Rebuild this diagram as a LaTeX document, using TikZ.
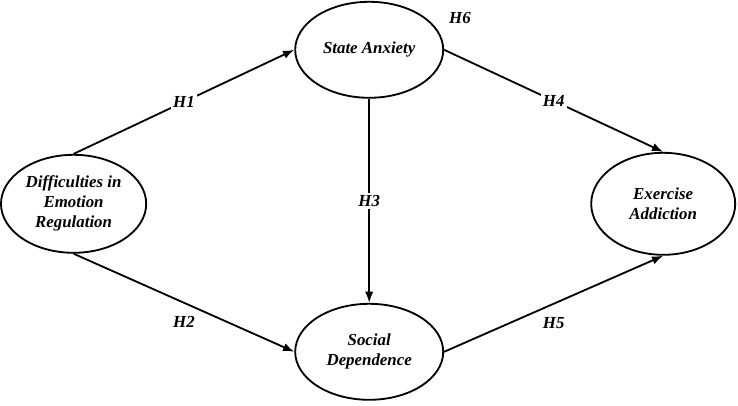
\documentclass[tikz,border=0pt]{standalone}
\usepackage{fontspec}
\setmainfont{Liberation Serif}
\usepackage{tikz}
\usetikzlibrary{arrows.meta,shapes.geometric}

\begin{document}
\begin{tikzpicture}[
  >={Latex[length=8pt,width=6pt]},
  line width=1.3pt,
  font=\fontsize{12}{14.2}\selectfont\bfseries\itshape,
  construct/.style={draw,ellipse,inner sep=0,minimum width=3.7cm,minimum height=2.4cm,align=center},
  hyp/.style={fill=white,inner sep=1.5pt}
  ]

  \useasboundingbox (0, 0) rectangle (18.45, 10.125);

  \node [construct,minimum width=3.63cm,minimum height=2.45cm] (der) at (1.84, 5.03) {Difficulties in\\Emotion\\Regulation};
  \node [construct] (sa) at (9.23, 8.88) {State Anxiety};
  \node [construct] (sd) at (9.23, 1.33) {Social\\Dependence};
  \node [construct,minimum width=3.6cm,minimum height=2.55cm] (ea) at (16.58, 5.03) {Exercise\\Addiction};

  \draw[->] (der.north) -- (sa.west) node [hyp,midway] {H1};
  \draw[->] (der.south) -- (sd.west) node (h2) [pos=0.5,below=6pt] {H2};
  \draw[->] (sa.south) -- (sd.north) node [hyp,midway] {H3};
  \draw[->] (sa.east) -- (ea.north) node [hyp,midway] {H4};
  \draw[->] (sd.east) -- (ea.south) node (h5) [pos=0.5,below=6pt] {H5};
  \node (h6) at (11.5, 9.68) {H6};

\end{tikzpicture}
\end{document}
